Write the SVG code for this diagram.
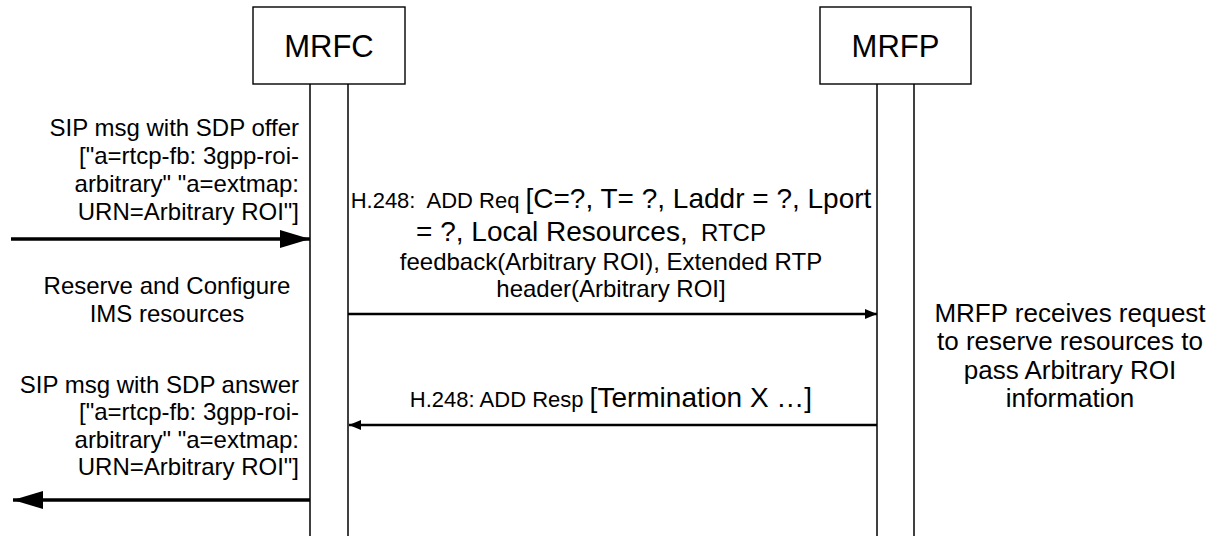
<svg xmlns="http://www.w3.org/2000/svg" width="1216" height="536" viewBox="0 0 1216 536">
<style>
text{font-family:"Liberation Sans",Arial,sans-serif;fill:#000;white-space:pre}
.box{fill:#fff;stroke:#000;stroke-width:1.4}
.life{stroke:#000;stroke-width:1.5;fill:none}
.title{font-size:31px;text-anchor:middle}
.sip{font-size:24px;text-anchor:end}
.note{font-size:24px;text-anchor:middle}
.rnote{font-size:26px;text-anchor:middle}
.msg{text-anchor:middle}
.s{font-size:22px}
.m{font-size:24px}
.l{font-size:28px}
.big{stroke:#000;stroke-width:3.5;fill:none;marker-end:url(#bigHead)}
.thin{stroke:#000;stroke-width:2.5;fill:none;marker-end:url(#smallHead)}
</style>
<defs>
<marker id="bigHead" markerUnits="userSpaceOnUse" markerWidth="30" markerHeight="18" refX="30" refY="9" orient="auto">
<path d="M0,0 L30,9 L0,18 z" fill="#000"/>
</marker>
<marker id="smallHead" markerUnits="userSpaceOnUse" markerWidth="12" markerHeight="10" refX="12" refY="5" orient="auto">
<path d="M0,0 L12,5 L0,10 z" fill="#000"/>
</marker>
</defs>
<rect width="1216" height="536" fill="#fff"/>
<g id="MRFC">
<rect class="box" x="253" y="7" width="152" height="77"/>
<text class="title" x="329" y="57">MRFC</text>
<line class="life" x1="310" y1="84" x2="310" y2="536"/>
<line class="life" x1="348" y1="84" x2="348" y2="536"/>
</g>
<g id="MRFP">
<rect class="box" x="820" y="7" width="151" height="77"/>
<text class="title" x="895.5" y="57">MRFP</text>
<line class="life" x1="877" y1="84" x2="877" y2="536"/>
<line class="life" x1="914" y1="84" x2="914" y2="536"/>
</g>
<g id="connectors">
<line class="big" x1="11" y1="239" x2="310" y2="239"/>
<line class="thin" x1="348" y1="314" x2="877" y2="314"/>
<line class="thin" x1="877" y1="425" x2="349" y2="425"/>
<line class="big" x1="310" y1="500" x2="13" y2="500"/>
</g>
<g id="labels">
<text class="sip" x="299" y="136">SIP msg with SDP offer</text>
<text class="sip" x="299" y="164">["a=rtcp-fb: 3gpp-roi-</text>
<text class="sip" x="299" y="192">arbitrary" "a=extmap:</text>
<text class="sip" x="299" y="220">URN=Arbitrary ROI"]</text>
<text class="msg" x="611" y="208"><tspan class="s">H.248:  ADD Req </tspan><tspan class="l">[C=?, T= ?, Laddr = ?, Lport</tspan></text>
<text class="msg" x="591" y="241"><tspan class="l">= ?, Local Resources,</tspan><tspan class="m">  RTCP</tspan></text>
<text class="msg m" x="611" y="270">feedback(Arbitrary ROI), Extended RTP</text>
<text class="msg m" x="611" y="297">header(Arbitrary ROI]</text>
<text class="note" x="167" y="294">Reserve and Configure</text>
<text class="note" x="167" y="322">IMS resources</text>
<text class="rnote" x="1070" y="322">MRFP receives request</text>
<text class="rnote" x="1070" y="350">to reserve resources to</text>
<text class="rnote" x="1070" y="379">pass Arbitrary ROI</text>
<text class="rnote" x="1070" y="407">information</text>
<text class="msg" x="611" y="407"><tspan class="s">H.248: ADD Resp </tspan><tspan class="l">[Termination X …]</tspan></text>
<text class="sip" x="299" y="393">SIP msg with SDP answer</text>
<text class="sip" x="299" y="420">["a=rtcp-fb: 3gpp-roi-</text>
<text class="sip" x="299" y="448">arbitrary" "a=extmap:</text>
<text class="sip" x="299" y="475">URN=Arbitrary ROI"]</text>
</g>
</svg>
